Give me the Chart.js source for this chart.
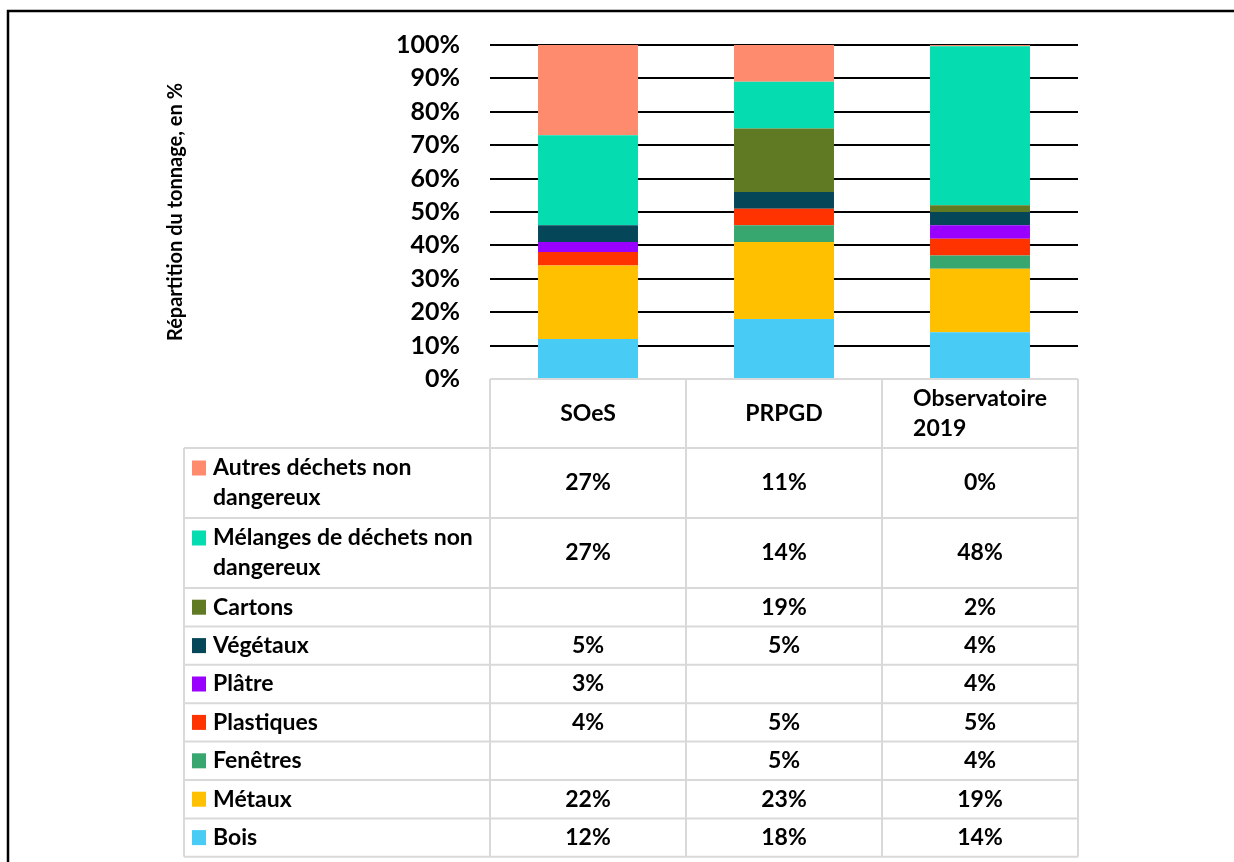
<!DOCTYPE html>
<html>
<head>
<meta charset="utf-8">
<script src="https://cdn.jsdelivr.net/npm/chart.js@4.4.1/dist/chart.umd.min.js"></script>
<style>
  body { margin: 0; background: #fff; }
</style>
</head>
<body>
<canvas id="wasteCanvas" width="1234" height="862"></canvas>
<script>
// sources (bars / table columns)
var sources = ["SOeS", "PRPGD", "Observatoire 2019"];

// values in %, null = empty cell
var bois       = [12, 18, 14];
var metaux     = [22, 23, 19];
var fenetres   = [null, 5, 4];
var plastiques = [4, 5, 5];
var platre     = [3, null, 4];
var vegetaux   = [5, 5, 4];
var cartons    = [null, 19, 2];
var melanges   = [27, 14, 47.6];
var autres     = [27, 11, 0.4];

var yTicks = [0, 10, 20, 30, 40, 50, 60, 70, 80, 90, 100];

// series from bottom of the stack to top
var series = [
    { label: "Bois", data: bois, color: "#48cbf5" },
    { label: "Métaux", data: metaux, color: "#ffc000" },
    { label: "Fenêtres", data: fenetres, color: "#38a66f" },
    { label: "Plastiques", data: plastiques, color: "#ff3300" },
    { label: "Plâtre", data: platre, color: "#9900ff" },
    { label: "Végétaux", data: vegetaux, color: "#064659" },
    { label: "Cartons", data: cartons, color: "#5f7a22" },
    { label: "Mélanges de déchets non dangereux", data: melanges, color: "#05ddb0" },
    { label: "Autres déchets non dangereux", data: autres, color: "#ff8b6e" }
];

var FONT = "Lato";
Chart.defaults.font.family = FONT;
Chart.defaults.color = "#000";

function wrapText(ctx, text, maxWidth) {
    var words = text.split(" ");
    var lines = [];
    var line = "";
    for (var i = 0; i < words.length; i++) {
        var test = line ? line + " " + words[i] : words[i];
        if (line && ctx.measureText(test).width > maxWidth) {
            lines.push(line);
            line = words[i];
        } else {
            line = test;
        }
    }
    if (line) lines.push(line);
    return lines;
}

// frame round the whole picture
var framePlugin = {
    id: "frame",
    beforeDraw: function(chart) {
        var ctx = chart.ctx;
        ctx.save();
        ctx.fillStyle = "#fff";
        ctx.fillRect(0, 0, chart.width, chart.height);
        ctx.restore();
    },
    afterDraw: function(chart) {
        var ctx = chart.ctx;
        ctx.save();
        ctx.strokeStyle = "#000";
        ctx.lineWidth = 2.5;
        ctx.beginPath();
        ctx.moveTo(8, chart.height);
        ctx.lineTo(8, 11);
        ctx.lineTo(chart.width, 11);
        ctx.stroke();
        ctx.restore();
    }
};

// Excel-like data table under the bars
var tablePlugin = {
    id: "dataTable",
    afterDraw: function(chart) {
        var ctx = chart.ctx;
        var xs = chart.scales.x;
        var area = chart.chartArea;
        var n = sources.length;
        var colW = (xs.right - xs.left) / n;
        var tableLeft = 184;
        var headerH = 69;
        var lineH = 30;
        var gridColor = "#d9d9d9";

        ctx.save();
        ctx.font = "bold 23px " + FONT;
        ctx.fillStyle = "#000";
        ctx.textBaseline = "middle";

        // rows, top of the table = top of the stack
        var rows = series.slice().reverse().map(function(s) {
            var lines = wrapText(ctx, s.label, area.left - 213 - 6);
            return { s: s, lines: lines, h: lines.length > 1 ? 70 : 38.4 };
        });

        var top = area.bottom;
        var headerBottom = top + headerH;
        var bottom = headerBottom;
        rows.forEach(function(r) { bottom += r.h; });

        ctx.strokeStyle = gridColor;
        ctx.lineWidth = 2;
        ctx.beginPath();
        // header top + column separators
        ctx.moveTo(xs.left, top); ctx.lineTo(xs.right, top);
        for (var c = 0; c <= n; c++) {
            var cx = xs.left + c * colW;
            ctx.moveTo(cx, top); ctx.lineTo(cx, bottom);
        }
        ctx.moveTo(tableLeft, headerBottom); ctx.lineTo(tableLeft, bottom);
        var y = headerBottom;
        ctx.moveTo(tableLeft, y); ctx.lineTo(xs.right, y);
        rows.forEach(function(r) {
            y += r.h;
            ctx.moveTo(tableLeft, y); ctx.lineTo(xs.right, y);
        });
        ctx.stroke();

        // header labels
        sources.forEach(function(name, i) {
            var center = xs.getPixelForValue(i);
            var lines = wrapText(ctx, name, colW - 30);
            var maxW = 0;
            lines.forEach(function(l) { maxW = Math.max(maxW, ctx.measureText(l).width); });
            ctx.textAlign = "left";
            var y0 = top + headerH / 2 - (lines.length - 1) * lineH / 2;
            lines.forEach(function(l, k) {
                var lx = lines.length > 1 ? center - maxW / 2 : center - ctx.measureText(l).width / 2;
                ctx.fillText(l, lx, y0 + k * lineH);
            });
        });

        // body rows
        y = headerBottom;
        rows.forEach(function(r) {
            var mid = y + r.h / 2;
            var y0 = mid - (r.lines.length - 1) * lineH / 2;
            ctx.fillStyle = r.s.color;
            ctx.fillRect(192, y0 - 7.5, 14, 15);
            ctx.fillStyle = "#000";
            ctx.textAlign = "left";
            r.lines.forEach(function(l, k) {
                ctx.fillText(l, 213, y0 + k * lineH);
            });
            ctx.textAlign = "center";
            r.s.data.forEach(function(v, i) {
                if (v === null) return;
                ctx.fillText(Math.round(v) + "%", xs.getPixelForValue(i), mid);
            });
            y += r.h;
        });
        ctx.restore();
    }
};

var canvas = document.getElementById("wasteCanvas");
var wasteChart = new Chart(canvas, {
    type: "bar",
    data: {
        labels: sources,
        datasets: series.map(function(s) {
            return {
                label: s.label,
                data: s.data,
                backgroundColor: s.color,
                borderWidth: 0,
                barPercentage: 0.51,
                categoryPercentage: 1
            };
        })
    },
    options: {
        responsive: false,
        animation: false,
        layout: { padding: { top: 44, right: 156, bottom: 483, left: 0 } },
        plugins: {
            legend: { display: false },
            tooltip: { enabled: false }
        },
        scales: {
            x: {
                stacked: true,
                display: false
            },
            y: {
                stacked: true,
                min: 0,
                max: 100,
                afterFit: function(scale) { scale.width = 490; },
                afterBuildTicks: function(scale) {
                    scale.ticks = yTicks.map(function(v) { return { value: v }; });
                },
                border: { display: false },
                grid: {
                    drawTicks: false,
                    lineWidth: 2,
                    color: function(ctx) {
                        return ctx.tick && ctx.tick.value === 0 ? "rgba(0,0,0,0)" : "#000";
                    }
                },
                ticks: {
                    padding: 30,
                    color: "#000",
                    font: { size: 25, weight: "bold" },
                    callback: function(v) { return v + "%"; }
                },
                title: {
                    display: true,
                    text: "Répartition du tonnage, en %",
                    color: "#000",
                    font: { size: 20, weight: "bold" },
                    padding: { top: 164, bottom: 0 }
                }
            }
        }
    },
    plugins: [framePlugin, tablePlugin]
});
</script>
</body>
</html>
